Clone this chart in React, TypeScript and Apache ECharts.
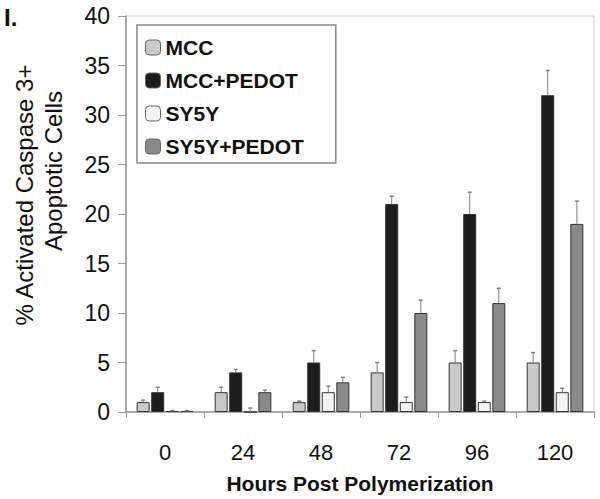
import React, { useEffect, useRef } from "react";
import * as echarts from "echarts";

const categories = ["0", "24", "48", "72", "96", "120"];
const seriesNames = ["MCC", "MCC+PEDOT", "SY5Y", "SY5Y+PEDOT"];
const mcc = [1, 2, 1, 4, 5, 5];
const mccErr = [0.2, 0.5, 0.1, 1.0, 1.2, 1.0];
const mccPedot = [2, 4, 5, 21, 20, 32];
const mccPedotErr = [0.5, 0.3, 1.2, 0.8, 2.2, 2.5];
const sy5y = [0.1, 0, 2, 1, 1, 2];
const sy5yErr = [0.05, 0.4, 0.6, 0.5, 0.1, 0.4];
const sy5yPedot = [0.1, 2, 3, 10, 11, 19];
const sy5yPedotErr = [0.05, 0.2, 0.5, 1.3, 1.5, 2.3];
const yTicks = [0, 5, 10, 15, 20, 25, 30, 35, 40];
const yNameLines = ["% Activated Caspase 3+", "Apoptotic Cells"];
const xName = "Hours Post Polymerization";
const panelLabel = "I.";

const colors = ["#c9c9c9", "#1c1c1c", "#f3f3f3", "#8a8a8a"];
const FONT = "'Liberation Sans', Arial, sans-serif";
const BAR_W = 13;
const GAP_RATIO = 0.12;

export default function App() {
  const ref = useRef<HTMLDivElement>(null);
  useEffect(() => {
    if (!ref.current) return;
    const chart = echarts.init(ref.current, null, { renderer: "svg" });
    const values = [mcc, mccPedot, sy5y, sy5yPedot];
    const errs = [mccErr, mccPedotErr, sy5yErr, sy5yPedotErr];
    const n = values.length;
    const gap = BAR_W * GAP_RATIO;
    const total = n * BAR_W + (n - 1) * gap;

    const barSeries = values.map((vals, i) => ({
      name: seriesNames[i],
      type: "bar",
      data: vals,
      barWidth: BAR_W,
      barGap: `${GAP_RATIO * 100}%`,
      itemStyle: { color: colors[i], borderColor: "#333", borderWidth: 1 },
      z: 2,
    }));

    const errSeries = values.map((vals, i) => ({
      name: seriesNames[i] + "-err",
      type: "custom",
      data: vals.map((v, k) => [k, v, errs[i][k]]),
      z: 3,
      renderItem: (params: any, api: any) => {
        const c = api.value(0);
        const v = api.value(1);
        const e = api.value(2);
        const base = api.coord([c, v]);
        const top = api.coord([c, v + e]);
        const off = -total / 2 + BAR_W / 2 + i * (BAR_W + gap);
        const x = base[0] + off;
        const cap = 2;
        return {
          type: "group",
          children: [
            {
              type: "line",
              shape: { x1: x, y1: base[1], x2: x, y2: top[1] },
              style: { stroke: "#808080", lineWidth: 1 },
            },
            {
              type: "line",
              shape: { x1: x - cap, y1: top[1], x2: x + cap, y2: top[1] },
              style: { stroke: "#808080", lineWidth: 1.5 },
            },
          ],
        };
      },
    }));

    chart.setOption({
      animation: false,
      backgroundColor: "#ffffff",
      textStyle: { fontFamily: FONT },
      graphic: [
        {
          type: "text",
          x: 4,
          y: 5,
          style: {
            text: panelLabel,
            fontFamily: FONT,
            fontSize: 24,
            fontWeight: "bold",
            fill: "#111",
          },
        },
        {
          type: "text",
          x: 24,
          y: 195,
          rotation: Math.PI / 2,
          style: {
            text: yNameLines[0],
            fontFamily: FONT,
            fontSize: 24,
            fill: "#111",
            align: "center",
            verticalAlign: "middle",
          },
        },
        {
          type: "text",
          x: 53,
          y: 171,
          rotation: Math.PI / 2,
          style: {
            text: yNameLines[1],
            fontFamily: FONT,
            fontSize: 24,
            fill: "#111",
            align: "center",
            verticalAlign: "middle",
          },
        },
      ],
      legend: {
        data: seriesNames,
        orient: "vertical",
        left: 137,
        top: 25,
        padding: [12, 32, 6, 8],
        itemWidth: 15,
        itemHeight: 15,
        itemGap: 12,
        borderColor: "#888",
        borderWidth: 1.5,
        backgroundColor: "#fff",
        textStyle: { fontFamily: FONT, fontSize: 21, fontWeight: "bold", color: "#111" },
        itemStyle: { borderColor: "#666", borderWidth: 1 },
      },
      grid: {
        left: 126,
        right: 6,
        top: 16,
        bottom: 87,
        show: true,
        borderColor: "#cfcfcf",
        borderWidth: 1,
      },
      xAxis: {
        type: "category",
        data: categories,
        name: xName,
        nameLocation: "middle",
        nameGap: 61,
        nameTextStyle: { fontFamily: FONT, fontSize: 21, fontWeight: "bold", color: "#111" },
        axisLine: { lineStyle: { color: "#999", width: 1.5 } },
        axisTick: { show: true, length: 6, lineStyle: { color: "#999" } },
        axisLabel: { fontFamily: FONT, fontSize: 22, color: "#111", margin: 29 },
      },
      yAxis: {
        type: "value",
        min: 0,
        max: 40,
        interval: 5,
        axisLine: { show: true, lineStyle: { color: "#999", width: 1.5 } },
        axisTick: { show: true, length: 8, lineStyle: { color: "#999" } },
        splitLine: { show: false },
        axisLabel: {
          fontFamily: FONT,
          fontSize: 23,
          color: "#111",
          margin: 16,
          formatter: (v: number) => (yTicks.includes(v) ? String(v) : ""),
        },
      },
      series: [...barSeries, ...errSeries],
    });
    return () => chart.dispose();
  }, []);
  return (
    <div
      ref={ref}
      style={{ position: "absolute", left: 0, top: 0, width: 600, height: 499 }}
    />
  );
}
